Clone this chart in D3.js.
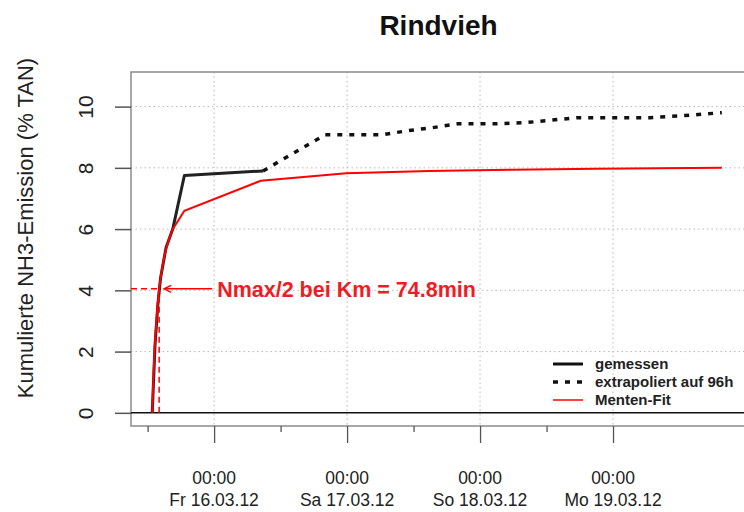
<!DOCTYPE html>
<html lang="de">
<head>
<meta charset="UTF-8">
<title>Rindvieh</title>
<script src="https://d3js.org/d3.v7.min.js"></script>
<style>
    body { margin: 0; background: #fff; font-family: "Liberation Sans", Arial, sans-serif; }
    svg { display: block; }
    .grid line { stroke: #b8b8b8; stroke-width: 1; stroke-dasharray: 1.5,3; }
</style>
</head>
<body>
<div id="chart"></div>
<script>
// start of the measurement, curves are given in hours after it
const startTime = new Date(2012, 2, 15, 12, 50);

// measured (gemessen)
const measuredHours  = [0, 0.5, 1.0, 1.5, 2.5, 3.7, 5.8, 20.0];
const measuredValues = [0, 2.2, 3.5, 4.4, 5.4, 6.0, 7.75, 7.9];

// extrapolated to 96h
const extraHours  = [20.0, 31.2, 41.5, 46.0, 50.5, 55.2, 62.2, 67.6, 72.1, 76.8, 89.8, 96.1, 102.8];
const extraValues = [7.9, 9.08, 9.08, 9.21, 9.31, 9.44, 9.44, 9.48, 9.56, 9.64, 9.64, 9.71, 9.80];

// Menten fit
const fitHours  = [0, 0.25, 0.5, 0.75, 1.0, 1.25, 1.5, 2.0, 2.5, 3.0, 3.7, 5.8, 19.6, 35, 50, 65, 80, 102.8];
const fitValues = [0, 1.35, 2.3, 3.0, 3.6, 4.05, 4.4, 4.95, 5.35, 5.65, 6.0, 6.6, 7.58, 7.82, 7.9, 7.94, 7.97, 8.0];

const kmMinutes = 74.8;
const nHalf = 4.05;

const yTicks = [0, 2, 4, 6, 8, 10];
const yGrid = [2, 4, 6, 8, 10];
const majorTicks = [new Date(2012, 2, 16), new Date(2012, 2, 17), new Date(2012, 2, 18), new Date(2012, 2, 19)];
const majorLabels = ["Fr 16.03.12", "Sa 17.03.12", "So 18.03.12", "Mo 19.03.12"];
const minorTicks = [new Date(2012, 2, 15, 12), new Date(2012, 2, 16, 12), new Date(2012, 2, 17, 12), new Date(2012, 2, 18, 12)];

const legendItems = [
    { label: "gemessen", color: "#111", width: 3, dash: null },
    { label: "extrapoliert auf 96h", color: "#111", width: 3.5, dash: "5,7" },
    { label: "Menten-Fit", color: "red", width: 1.5, dash: null }
];

const width = 744, height = 512;
const plot = { left: 131, right: 746, top: 72, bottom: 426 };

const svg = d3.select("#chart").append("svg")
    .attr("width", width)
    .attr("height", height);

const x = d3.scaleTime()
    .domain([new Date(2012, 2, 15, 9, 0), new Date(2012, 2, 20, 0, 0)])
    .range([plot.left, plot.right]);
const y = d3.scaleLinear()
    .domain([-0.43, 11.13])
    .range([plot.bottom, plot.top]);

const toDate = h => new Date(startTime.getTime() + h * 3600 * 1000);
const zip = (hs, vs) => hs.map((h, i) => ({ t: toDate(h), v: vs[i] }));

// grid
const grid = svg.append("g").attr("class", "grid");
grid.selectAll(".gy").data(yGrid).enter().append("line")
    .attr("x1", plot.left).attr("x2", plot.right)
    .attr("y1", d => y(d)).attr("y2", d => y(d));
grid.selectAll(".gx").data(majorTicks).enter().append("line")
    .attr("x1", d => x(d)).attr("x2", d => x(d))
    .attr("y1", plot.top).attr("y2", plot.bottom);

// box
svg.append("rect")
    .attr("x", plot.left).attr("y", plot.top)
    .attr("width", plot.right - plot.left).attr("height", plot.bottom - plot.top)
    .attr("fill", "none").attr("stroke", "#8a8a8a").attr("stroke-width", 1.5);

// zero line
svg.append("line")
    .attr("x1", plot.left).attr("x2", plot.right)
    .attr("y1", y(0)).attr("y2", y(0))
    .attr("stroke", "#111").attr("stroke-width", 1.5);

// y axis
const yAxis = svg.append("g")
    .attr("transform", `translate(${plot.left},0)`)
    .call(d3.axisLeft(y).tickValues(yTicks).tickSize(16).tickFormat(d3.format("d")));
yAxis.select(".domain").remove();
yAxis.selectAll(".tick line").attr("stroke", "#555").attr("stroke-width", 1.5);
yAxis.selectAll(".tick text")
    .attr("x", 0).attr("dy", 0)
    .attr("transform", "translate(-38.5,0) rotate(-90)")
    .attr("text-anchor", "middle")
    .style("font-family", "'Liberation Sans', Arial, sans-serif")
    .style("font-size", "21px")
    .attr("fill", "#222");

// x axis: major ticks with two line labels, short minor ticks
const xAxis = svg.append("g")
    .attr("transform", `translate(0,${plot.bottom})`)
    .call(d3.axisBottom(x).tickValues(majorTicks).tickSize(17).tickFormat(""));
xAxis.select(".domain").remove();
xAxis.selectAll(".tick line").attr("stroke", "#555").attr("stroke-width", 1.3);

const xMinor = svg.append("g")
    .attr("transform", `translate(0,${plot.bottom})`)
    .call(d3.axisBottom(x).tickValues(minorTicks).tickSize(6).tickFormat(""));
xMinor.select(".domain").remove();
xMinor.selectAll(".tick line").attr("stroke", "#555").attr("stroke-width", 1.3);

const xLab = svg.append("g").selectAll("text").data(majorTicks).enter().append("text")
    .attr("x", d => x(d))
    .attr("text-anchor", "middle")
    .style("font-size", "17.5px")
    .attr("fill", "#222");
xLab.append("tspan").attr("x", d => x(d)).attr("y", 484).text(d => d3.timeFormat("%H:%M")(d));
xLab.append("tspan").attr("x", d => x(d)).attr("y", 506).text((d, i) => majorLabels[i]);

// axis title + chart title
svg.append("text")
    .attr("transform", "translate(33,228) rotate(-90)")
    .attr("text-anchor", "middle")
    .style("font-size", "22px")
    .attr("fill", "#222")
    .text("Kumulierte NH3-Emission (% TAN)");

svg.append("text")
    .attr("x", (plot.left + plot.right) / 2)
    .attr("y", 35)
    .attr("text-anchor", "middle")
    .style("font-size", "28px")
    .style("font-weight", "bold")
    .attr("fill", "#111")
    .text("Rindvieh");

// lines
const line = d3.line().x(d => x(d.t)).y(d => y(d.v));

svg.append("path")
    .datum(zip(extraHours, extraValues))
    .attr("d", line)
    .attr("fill", "none").attr("stroke", "#111")
    .attr("stroke-width", 3.5).attr("stroke-dasharray", "5,7");

svg.append("path")
    .datum(zip(measuredHours, measuredValues))
    .attr("d", line)
    .attr("fill", "none").attr("stroke", "#222")
    .attr("stroke-width", 3).attr("stroke-linejoin", "round");

svg.append("path")
    .datum(zip(fitHours, fitValues))
    .attr("d", line)
    .attr("fill", "none").attr("stroke", "red")
    .attr("stroke-width", 2);

// Km marker
const kmX = x(toDate(kmMinutes / 60));
const halfY = y(nHalf);
svg.append("line")
    .attr("x1", kmX).attr("x2", kmX).attr("y1", y(0)).attr("y2", halfY)
    .attr("stroke", "red").attr("stroke-width", 1.5).attr("stroke-dasharray", "6,4");
svg.append("line")
    .attr("x1", plot.left).attr("x2", kmX).attr("y1", halfY).attr("y2", halfY)
    .attr("stroke", "red").attr("stroke-width", 1.5).attr("stroke-dasharray", "6,4");

const tipX = kmX + 5;
svg.append("line")
    .attr("x1", tipX).attr("x2", tipX + 48).attr("y1", halfY).attr("y2", halfY)
    .attr("stroke", "red").attr("stroke-width", 1.5);
svg.append("path")
    .attr("d", `M${tipX + 7},${halfY - 3.5} L${tipX},${halfY} L${tipX + 7},${halfY + 3.5}`)
    .attr("fill", "none").attr("stroke", "red").attr("stroke-width", 1.5);

svg.append("text")
    .attr("x", tipX + 53)
    .attr("y", halfY)
    .attr("dy", "0.36em")
    .style("font-size", "21.5px")
    .style("font-weight", "bold")
    .attr("fill", "#ee1c24")
    .text(`Nmax/2 bei Km = ${kmMinutes}min`);

// legend
const legend = svg.append("g").selectAll("g").data(legendItems).enter().append("g")
    .attr("transform", (d, i) => `translate(553,${364 + i * 18})`);
legend.append("line")
    .attr("x1", 0).attr("x2", 30)
    .attr("stroke", d => d.color)
    .attr("stroke-width", d => d.width)
    .attr("stroke-dasharray", d => d.dash);
legend.append("text")
    .attr("x", 42)
    .attr("dy", "0.36em")
    .style("font-size", "15px")
    .style("font-weight", "bold")
    .attr("fill", "#222")
    .text(d => d.label);
</script>
</body>
</html>
